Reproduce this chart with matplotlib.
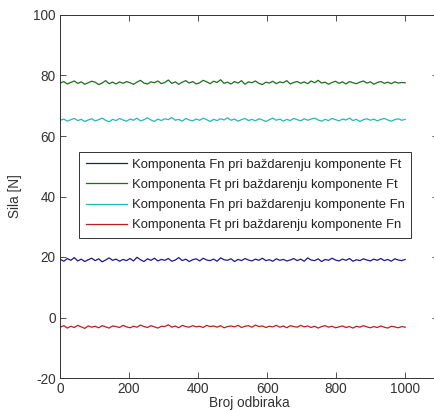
import numpy as np
import matplotlib
matplotlib.use("Agg")
import matplotlib.pyplot as plt

plt.rcParams["font.family"] = ["Liberation Sans", "DejaVu Sans"]
plt.rcParams["axes.unicode_minus"] = False

# Ocitane vrijednosti (priblizno) sa slike
fn_ft = [19.2, 18.6, 19.5, 18.9, 19.8, 18.7, 19.3, 18.5, 19.1, 19.6,
         18.8, 19.4, 18.4, 19.0, 19.7, 18.9, 19.3, 18.6, 19.2, 18.8,
         19.5, 18.7, 19.9, 19.1, 18.5, 19.4, 18.9, 19.6, 18.7, 19.2,
         18.9, 19.5, 18.6, 19.0, 19.8, 18.8, 19.3, 18.5, 19.1, 19.4,
         18.7, 19.6, 19.0, 18.8, 19.3, 18.6, 19.7, 19.1, 18.9, 19.4,
         18.5, 19.2, 18.8, 19.5, 19.0, 18.7, 19.3, 18.9, 19.6, 18.8,
         19.1, 18.6, 19.4, 18.9, 19.2, 18.7, 19.0, 19.5, 18.8, 19.3,
         18.6, 19.7, 19.0, 18.8, 19.4, 18.5, 19.2, 18.9, 19.6, 19.0,
         18.7, 19.3, 18.9, 19.5, 18.6, 19.1, 18.8, 19.4, 19.0, 18.7,
         19.3, 18.9, 19.5, 18.8, 19.2, 18.6, 19.4, 19.0, 18.8, 19.2]

ft_ft = [77.5, 78.0, 77.2, 77.7, 78.2, 77.4, 77.9, 77.1, 77.6, 78.1,
         77.8, 77.0, 77.5, 78.3, 77.3, 77.8, 77.2, 77.9, 77.4, 78.0,
         77.6, 77.1, 77.8, 78.4, 77.5, 77.2, 77.9, 77.6, 78.2, 77.3,
         77.7, 78.5, 77.4, 77.9, 77.1, 77.8, 78.3, 77.5, 78.0, 77.2,
         77.6, 78.4, 77.9, 77.3, 78.1, 77.7, 78.6, 77.4, 77.8, 77.2,
         78.0, 77.5, 78.3, 77.1, 77.9, 77.6, 78.2, 77.4, 77.0, 77.8,
         77.5, 78.1, 77.3, 77.9, 77.6, 78.3, 77.2, 77.7, 78.0, 77.4,
         77.9, 77.3, 78.2, 77.6, 78.4, 77.5, 77.8, 77.1, 77.7, 78.1,
         77.4, 77.9, 77.2, 78.0, 77.6, 77.3, 77.8, 78.2, 77.5, 77.9,
         77.1, 77.7, 78.0, 77.4, 77.8, 77.3, 77.9, 77.5, 77.7, 77.6]

fn_fn = [65.2, 65.6, 64.9, 65.4, 65.8, 65.1, 65.5, 64.8, 65.3, 65.7,
         65.0, 65.4, 65.9, 65.2, 64.7, 65.5, 65.1, 65.8, 65.3, 64.9,
         65.6, 65.2, 65.9, 65.0, 65.4, 66.0, 65.3, 64.8, 65.6, 65.1,
         65.7, 65.4, 66.1, 65.2, 65.5, 64.9, 65.8, 65.3, 65.0, 65.6,
         65.2, 65.9, 65.4, 64.8, 65.5, 65.1, 65.7, 65.3, 66.0, 65.2,
         65.6, 64.9, 65.4, 65.8, 65.1, 65.5, 65.0, 65.7, 65.3, 64.8,
         65.4, 65.9, 65.2, 65.6, 64.9, 65.5, 65.1, 65.8, 65.4, 65.0,
         65.7, 65.2, 65.6, 65.9, 65.3, 64.9, 65.5, 65.1, 65.8, 65.4,
         65.0, 65.6, 65.3, 65.9, 65.1, 65.5, 64.8, 65.4, 65.7, 65.2,
         65.6, 65.0, 65.5, 65.8, 65.3, 64.9, 65.4, 65.7, 65.2, 65.5]

ft_fn = [-3.2, -2.7, -3.5, -2.9, -3.3, -2.6, -3.1, -3.6, -2.8, -3.2,
         -2.9, -3.4, -2.7, -3.1, -3.5, -2.8, -3.0, -3.3, -2.6, -3.1,
         -3.4, -2.9, -3.2, -2.5, -3.0, -3.3, -2.7, -3.1, -3.5, -2.9,
         -3.0, -2.4, -3.2, -2.8, -3.4, -2.6, -3.0, -3.2, -2.7, -3.1,
         -2.9, -3.3, -2.6, -3.0, -2.8, -3.2, -2.7, -3.4, -3.0, -2.8,
         -3.1, -2.6, -3.3, -2.9, -2.7, -3.2, -2.5, -3.0, -2.8, -3.3,
         -2.9, -3.1, -2.6, -3.2, -2.8, -3.4, -2.7, -3.0, -3.2, -2.6,
         -3.1, -2.8, -3.3, -2.9, -3.5, -3.0, -2.7, -3.2, -2.9, -3.4,
         -3.1, -2.8, -3.3, -3.0, -3.5, -2.9, -3.2, -2.7, -3.1, -3.4,
         -3.0, -3.3, -2.8, -3.2, -3.5, -2.9, -3.1, -3.4, -3.0, -3.2]

labels = ["Komponenta Fn pri baždarenju komponente Ft",
          "Komponenta Ft pri baždarenju komponente Ft",
          "Komponenta Fn pri baždarenju komponente Fn",
          "Komponenta Ft pri baždarenju komponente Fn"]
colors = ["#1a1a8c", "#1a701a", "#22b8b8", "#c01c1c"]

fig = plt.figure(figsize=(4.34, 4.11), dpi=100)
ax = fig.add_axes([60 / 434, 33 / 411, 378 / 434, 363 / 411])

for ser, lab, col in zip([fn_ft, ft_ft, fn_fn, ft_fn], labels, colors):
    x = np.linspace(1, 1000, len(ser))
    ax.plot(x, ser, color=col, lw=0.9, label=lab)

ax.set_xlim(0, 1095)
ax.set_ylim(-20, 100)
ax.set_xticks([0, 200, 400, 600, 800, 1000])
ax.set_yticks([-20, 0, 20, 40, 60, 80, 100])
ax.tick_params(direction="in", top=True, right=True, length=4, width=0.6,
               labelsize=9.8, colors="#333333", pad=3)
for s in ax.spines.values():
    s.set_linewidth(0.7)
    s.set_color("#333333")

ax.set_xlabel("Broj odbiraka", fontsize=9.8, color="#333333", labelpad=0)
ax.set_ylabel("Sila [N]", fontsize=9.8, color="#333333", labelpad=8)

leg = ax.legend(loc="upper left", bbox_to_anchor=(79 / 434, 1 - 152 / 411),
                bbox_transform=fig.transFigure, fontsize=9.4, frameon=True,
                fancybox=False, handlelength=3.2, handletextpad=0.35,
                borderpad=0.5, labelspacing=0.62, borderaxespad=0)
leg.get_frame().set_edgecolor("black")
leg.get_frame().set_linewidth(0.7)
for t in leg.get_texts():
    t.set_color("#222222")

fig.savefig("out.png", dpi=100)
